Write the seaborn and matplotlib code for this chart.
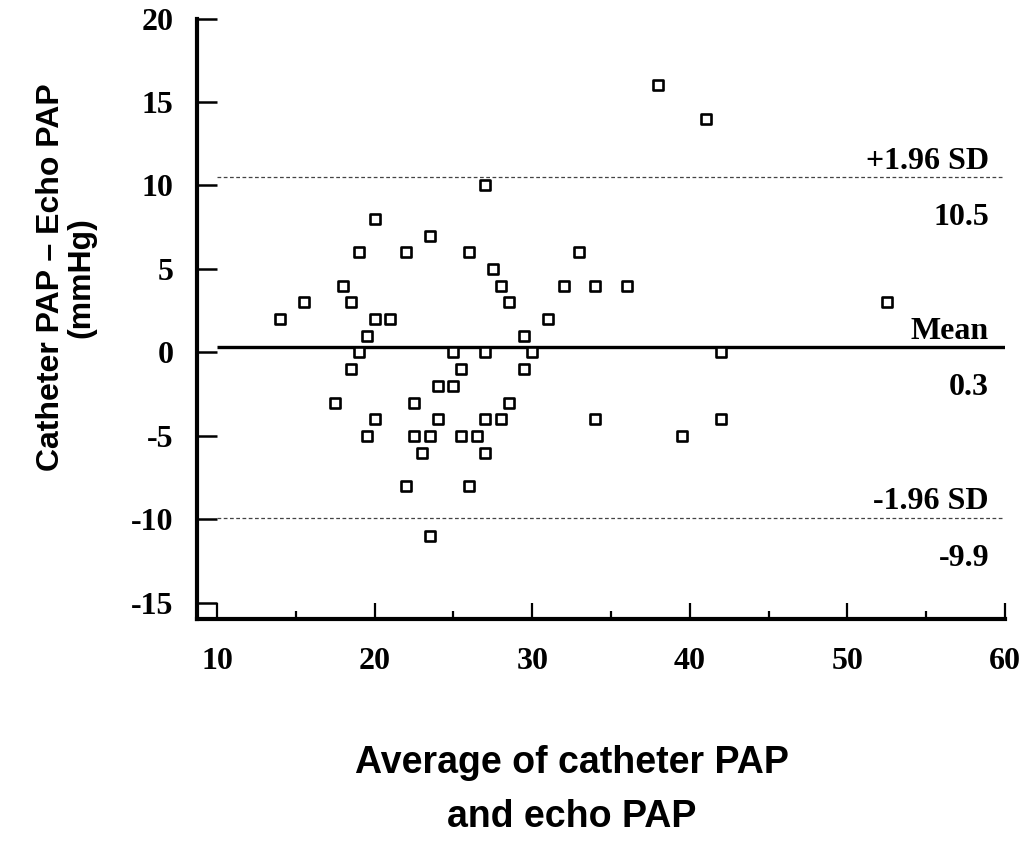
import matplotlib
matplotlib.use("Agg")
import matplotlib.pyplot as plt
from matplotlib.ticker import MultipleLocator
import seaborn as sns
import pandas as pd

# ---- data ----
avg_pap = [14, 15.5, 17.5, 18, 18.5, 18.5, 19, 19, 19.5, 19.5,
           20, 20, 20, 21, 22, 22, 22.5, 22.5, 23, 23.5,
           23.5, 23.5, 24, 24, 25, 25, 25.5, 25.5, 26, 26,
           26.5, 27, 27, 27, 27, 27.5, 28, 28, 28.5, 28.5,
           29.5, 29.5, 30, 31, 32, 33, 34, 34, 36, 38,
           39.5, 41, 42, 42, 52.5]
diff_pap = [2, 3, -3, 4, 3, -1, 6, 0, 1, -5,
            8, 2, -4, 2, 6, -8, -3, -5, -6, 7,
            -5, -11, -2, -4, 0, -2, -1, -5, 6, -8,
            -5, 10, 0, -4, -6, 5, 4, -4, 3, -3,
            1, -1, 0, 2, 4, 6, 4, -4, 4, 16,
            -5, 14, 0, -4, 3]
ref_values = [10.5, 0.3, -9.9]
ref_names = ["+1.96 SD", "Mean", "-1.96 SD"]
ref_values_text = ["10.5", "0.3", "-9.9"]
x_ticks = [10, 20, 30, 40, 50, 60]
y_ticks = [-15, -10, -5, 0, 5, 10, 15, 20]

df = pd.DataFrame({"avg": avg_pap, "diff": diff_pap})

sns.set_style("ticks")
plt.rcParams["font.family"] = ["Liberation Sans", "DejaVu Sans"]
plt.rcParams["axes.unicode_minus"] = False
plt.rcParams["text.color"] = "black"
plt.rcParams["axes.labelcolor"] = "black"
plt.rcParams["xtick.color"] = "black"
plt.rcParams["ytick.color"] = "black"

fig = plt.figure(figsize=(10.23, 8.65), dpi=100)
W, H = 1023, 865
left_px, right_px, top_px, bot_px = 197, 1005, 18.5, 619
ax = fig.add_axes([left_px / W, 1 - bot_px / H, (right_px - left_px) / W, (bot_px - top_px) / H])

sns.scatterplot(data=df, x="avg", y="diff", marker="s", s=46,
                facecolor="white", edgecolor="black", linewidth=1.9,
                ax=ax, zorder=3, legend=False)

# reference lines
for val, name in zip(ref_values, ref_names):
    if name == "Mean":
        ax.hlines(val, x_ticks[0], x_ticks[-1], colors="black", linewidth=2.4, zorder=2)
    else:
        ax.hlines(val, x_ticks[0], x_ticks[-1], colors="#444444", linewidth=0.9,
                  linestyles=(0, (3, 2)), zorder=2)

serif = ["Liberation Serif", "DejaVu Serif"]
for val, name, vtxt in zip(ref_values, ref_names, ref_values_text):
    ax.annotate(name, xy=(x_ticks[-1], val), xytext=(-11.5, 6), textcoords="offset points",
                ha="right", va="baseline", fontsize=23, fontweight="bold", family=serif,
                color="black")
    ax.annotate(vtxt, xy=(x_ticks[-1], val), xytext=(-11.5, -34.5), textcoords="offset points",
                ha="right", va="baseline", fontsize=23, fontweight="bold", family=serif,
                color="black")

ax.set_xlim(8.73, 60)
ax.set_ylim(-15.96, 20)
ax.set_xticks(x_ticks)
ax.set_yticks(y_ticks)
ax.xaxis.set_minor_locator(MultipleLocator(5))

sns.despine(ax=ax, top=True, right=True)
for sp in ["left", "bottom"]:
    ax.spines[sp].set_linewidth(3)
    ax.spines[sp].set_color("black")

ax.tick_params(axis="x", which="major", direction="in", length=11.5, width=1.6,
               color="black", pad=20, bottom=True, labelbottom=True)
ax.tick_params(axis="x", which="minor", direction="in", length=5.8, width=1.6,
               color="black", bottom=True)
ax.tick_params(axis="y", which="major", direction="in", length=14.5, width=1.8,
               color="black", pad=17, left=True, labelleft=True)
ax.tick_params(axis="y", which="minor", left=False)
for lab in ax.get_xticklabels() + ax.get_yticklabels():
    lab.set_fontfamily(serif)
    lab.set_fontweight("bold")
    lab.set_fontsize(23)
    lab.set_color("black")

ax.set_xlabel("Average of catheter PAP\nand echo PAP", fontsize=27, fontweight="bold",
              linespacing=1.65, color="black")
ax.xaxis.set_label_coords(0.464, -0.285)
ax.xaxis.label.set_verticalalignment("center")
ax.set_ylabel("Catheter PAP \u2013 Echo PAP\n(mmHg)", fontsize=23, fontweight="bold",
              linespacing=1.05, color="black")
ax.yaxis.set_label_coords(-0.162, 0.569)
ax.yaxis.label.set_verticalalignment("center")

fig.savefig("out.png", dpi=100)
